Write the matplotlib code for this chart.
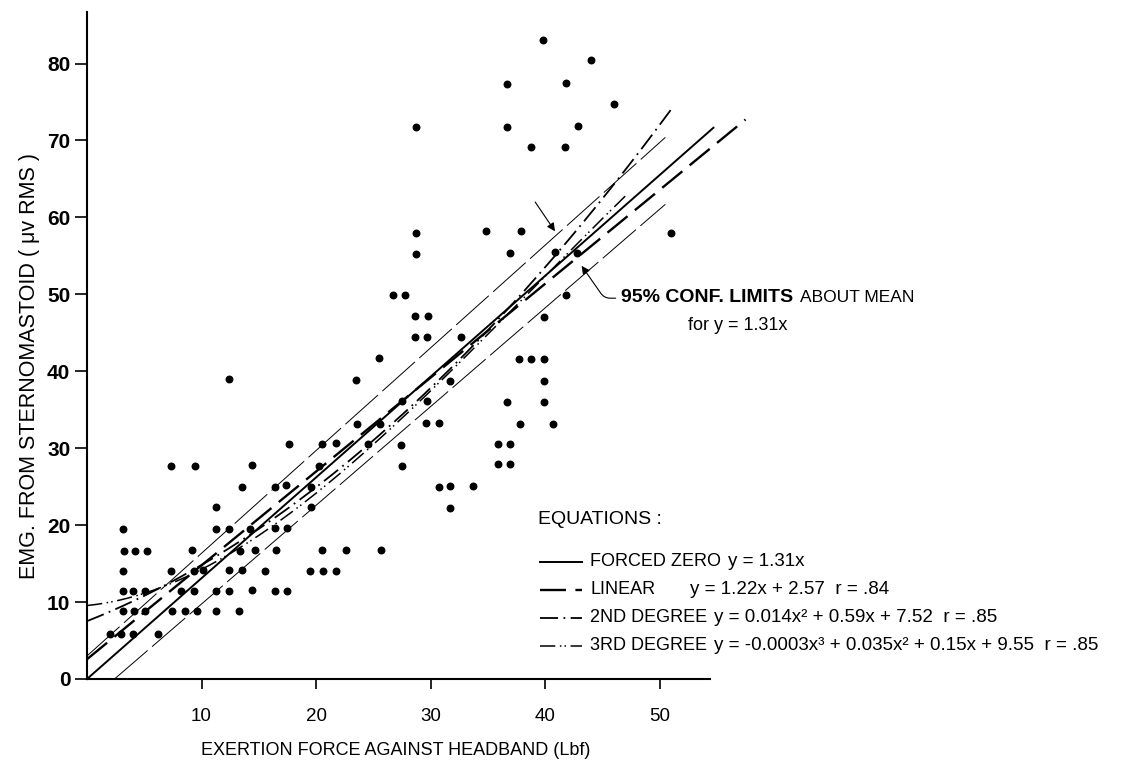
import matplotlib.pyplot as plt
import numpy as np
from matplotlib.lines import Line2D

plt.rcParams['font.family'] = ['Liberation Sans', 'DejaVu Sans']

# data points: force (lbf) vs EMG (uV RMS)
force = [2.0, 3.0, 4.0, 6.2,
         3.1, 4.1, 5.1, 7.4, 8.6, 9.6, 11.3, 13.3,
         3.1, 4.0, 5.1, 8.2, 9.3, 11.3, 12.4, 14.4, 16.4, 17.5,
         3.1, 7.3, 9.3, 10.1, 12.4, 13.5, 15.5, 19.5, 20.6, 21.7,
         3.2, 4.2, 5.2, 9.2, 13.4, 14.7, 16.5, 20.5, 22.6, 25.7,
         3.1, 11.3, 12.4, 14.2, 16.45, 17.5,
         11.3, 19.6, 31.7,
         13.5, 16.4, 17.4, 19.6, 30.7, 31.7, 33.7,
         7.3, 9.4, 14.4, 20.3, 27.5, 35.9, 36.9,
         17.6, 20.5, 21.7, 24.5, 27.4, 35.9, 36.9,
         23.6, 25.6, 29.6, 30.7, 37.8, 40.7,
         27.5, 29.7, 36.7, 39.9,
         12.4, 23.5, 31.7, 39.9,
         25.5, 37.7, 38.75, 39.9,
         28.6, 29.7, 32.7,
         28.6, 29.75, 39.9,
         26.75, 27.8, 41.8,
         28.7, 36.9, 40.9, 42.8,
         28.7, 34.8, 37.9, 51.0,
         38.8, 41.75,
         28.7, 36.7, 42.9,
         46.0,
         36.7, 41.8,
         44.0,
         39.8]
emg = [5.8, 5.8, 5.8, 5.8,
       8.8, 8.8, 8.8, 8.8, 8.8, 8.8, 8.8, 8.8,
       11.5, 11.5, 11.5, 11.4, 11.4, 11.5, 11.5, 11.6, 11.5, 11.5,
       14.0, 14.0, 14.0, 14.2, 14.2, 14.2, 14.1, 14.1, 14.1, 14.1,
       16.7, 16.7, 16.7, 16.8, 16.7, 16.8, 16.8, 16.8, 16.8, 16.8,
       19.5, 19.5, 19.5, 19.5, 19.6, 19.6,
       22.3, 22.4, 22.2,
       25.0, 25.0, 25.2, 25.0, 25.0, 25.1, 25.1,
       27.7, 27.7, 27.8, 27.7, 27.7, 27.9, 27.9,
       30.6, 30.6, 30.7, 30.6, 30.4, 30.5, 30.5,
       33.2, 33.1, 33.3, 33.3, 33.2, 33.2,
       36.1, 36.1, 36.0, 36.0,
       39.0, 38.9, 38.8, 38.8,
       41.7, 41.6, 41.6, 41.6,
       44.4, 44.4, 44.5,
       47.2, 47.2, 47.1,
       49.9, 49.9, 49.9,
       55.3, 55.4, 55.5, 55.4,
       58.0, 58.2, 58.2, 58.0,
       69.2, 69.1,
       71.7, 71.8, 71.9,
       74.7,
       77.3, 77.5,
       80.5,
       83.1]

# fitted curves (from the legend) and how far each one is drawn
x_end_zero = 54.7
x_end_lin = 57.5
x_end_2nd = 51.0
x_end_3rd = 47.0
# 95% confidence limits (end points)
conf_up_x = [0.0, 50.5]
conf_up_y = [3.0, 70.4]
conf_lo_x = [2.4, 50.5]
conf_lo_y = [0.0, 61.7]

fig = plt.figure(figsize=(11.41, 7.63), dpi=100)
W, H = 1141, 763
ax = fig.add_axes([87 / W, 1 - 679 / H, (710 - 87) / W, (679 - 12) / H])

def fx(px):
    return px / W

def fy(py):
    return 1 - py / H

ax.scatter(force, emg, s=22, color='black', zorder=5, clip_on=False)

x = np.linspace(0, x_end_zero, 200)
ax.plot(x, 1.31 * x, color='black', lw=1.4, clip_on=False)
x = np.linspace(0, x_end_lin, 200)
ax.plot(x, 1.22 * x + 2.57, color='black', lw=1.7, dashes=(11, 4), clip_on=False)
x = np.linspace(0, x_end_2nd, 200)
ax.plot(x, 0.014 * x**2 + 0.59 * x + 7.52, color='black', lw=1.3,
        dashes=(10, 3, 1, 3), clip_on=False)
x = np.linspace(0, x_end_3rd, 200)
ax.plot(x, -0.0003 * x**3 + 0.035 * x**2 + 0.15 * x + 9.55, color='black', lw=1.1,
        dashes=(10, 3, 1, 2, 1, 3), clip_on=False)
ax.plot(conf_up_x, conf_up_y, color='black', lw=0.7, dashes=(45, 6), clip_on=False)
ax.plot(conf_lo_x, conf_lo_y, color='black', lw=0.7, dashes=(45, 6), clip_on=False)

ax.set_xlim(0, 54.4)
ax.set_ylim(0, 86.7)
ax.spines['top'].set_visible(False)
ax.spines['right'].set_visible(False)
ax.spines['left'].set_linewidth(1.5)
ax.spines['bottom'].set_linewidth(1.5)
ax.set_xticks([10, 20, 30, 40, 50])
ax.set_yticks(range(0, 81, 10))
ax.tick_params(axis='both', direction='out', width=1.2)
ax.tick_params(axis='x', length=7, pad=14, labelsize=13.5)
ax.tick_params(axis='y', length=9, pad=3, labelsize=15)
for lab in ax.get_yticklabels():
    lab.set_fontweight('bold')

ax.set_xlabel('EXERTION FORCE AGAINST HEADBAND (Lbf)', fontsize=13)
ax.xaxis.set_label_coords(0.495, -0.095)
ax.set_ylabel('EMG. FROM STERNOMASTOID ( μv RMS )', fontsize=15.5)
ax.yaxis.set_label_coords(-0.075, 0.47)

# arrows to the confidence limits
ax.annotate('', xy=(41.0, 57.9), xytext=(39.0, 62.3),
            arrowprops=dict(arrowstyle='-|>', lw=0.8, color='black', mutation_scale=12))
ax.annotate('', xy=(43.05, 54.0), xytext=(46.4, 49.5),
            arrowprops=dict(arrowstyle='-|>', lw=0.8, color='black', mutation_scale=12,
                            connectionstyle='angle,angleA=0,angleB=125,rad=6'),
            annotation_clip=False)
t1 = fig.text(fx(621), fy(298), '95% CONF. LIMITS', fontsize=14, fontweight='bold', va='center')
ax.annotate('ABOUT MEAN', xy=(1, 0.5), xycoords=t1, xytext=(5, 0),
            textcoords='offset points', fontsize=12.5, va='center', annotation_clip=False)
fig.text(fx(688), fy(325), 'for y = 1.31x', fontsize=13, va='center')

# legend
fig.text(fx(538), fy(520), 'EQUATIONS :', fontsize=14, va='center')
rows = [
    ('FORCED ZERO', 'y = 1.31x', None, None, 1.4),
    ('LINEAR', 'y = 1.22x + 2.57  r = .84', 690, (11, 4), 1.7),
    ('2ND DEGREE', 'y = 0.014x² + 0.59x + 7.52  r = .85', None, (10, 3, 1, 3), 1.3),
    ('3RD DEGREE', 'y = -0.0003x³ + 0.035x² + 0.15x + 9.55  r = .85', None,
     (10, 3, 1, 2, 1, 3), 1.1),
]
for i, (name, eq, eqx, dash, lw) in enumerate(rows):
    yy = 562 + 28 * i
    ln = Line2D([fx(540), fx(582)], [fy(yy), fy(yy)], transform=fig.transFigure,
                color='black', lw=lw)
    if dash is not None:
        ln.set_dashes(dash)
    fig.add_artist(ln)
    tn = fig.text(fx(590), fy(yy), name, fontsize=13, va='center')
    if eqx is None:
        ax.annotate(eq, xy=(1, 0.5), xycoords=tn, xytext=(5, 0),
                    textcoords='offset points', fontsize=13.5, va='center',
                    annotation_clip=False)
    else:
        fig.text(fx(eqx), fy(yy), eq, fontsize=13.5, va='center')

fig.savefig('out.png', dpi=100)
